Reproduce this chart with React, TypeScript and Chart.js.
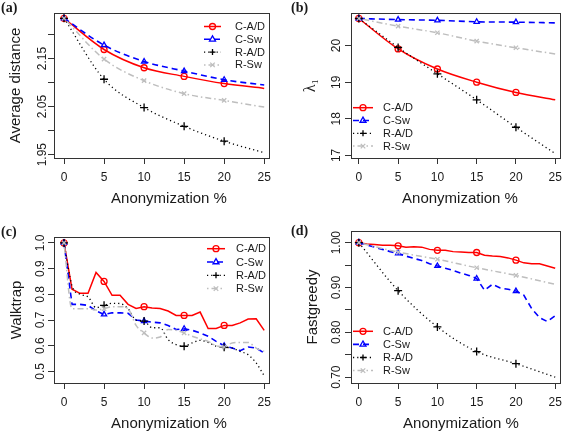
import React, { useEffect, useRef } from 'react';
import { Chart, registerables } from 'chart.js';

Chart.register(...registerables);

// ---------- data ----------
const SERIES_NAMES = ['C-A/D', 'C-Sw', 'R-A/D', 'R-Sw'];
const X_ALL = [0, 1, 2, 3, 4, 5, 6, 7, 8, 9, 10, 11, 12, 13, 14, 15, 16, 17, 18, 19, 20, 21, 22, 23, 24, 25];
const X_KEY = [0, 5, 10, 15, 20, 25];
const X_TICKS = [0, 5, 10, 15, 20, 25];
const MARK_AT = [0, 5, 10, 15, 20];

// (a) Average distance
const A_CAD = [2.234, 2.169, 2.131, 2.113, 2.098, 2.088];
const A_CSW = [2.234, 2.178, 2.144, 2.124, 2.106, 2.095];
const A_RAD = [2.234, 2.107, 2.048, 2.009, 1.978, 1.954];
const A_RSW = [2.234, 2.149, 2.104, 2.077, 2.063, 2.049];
const A_Y_TICKS = [1.95, 2.0, 2.05, 2.1, 2.15, 2.2];
const A_Y_LABELS = ['1.95', '', '2.05', '', '2.15', ''];

// (b) lambda_1
const B_CAD = [20.74, 19.91, 19.36, 19.0, 18.72, 18.52];
const B_CSW = [20.74, 20.71, 20.69, 20.65, 20.64, 20.62];
const B_RAD = [20.74, 19.95, 19.23, 18.52, 17.77, 17.05];
const B_RSW = [20.74, 20.53, 20.35, 20.12, 19.94, 19.77];
const B_Y_TICKS = [17, 18, 19, 20];
const B_Y_LABELS = ['17', '18', '19', '20'];

// (c) Walktrap
const C_CAD = [1.0, 0.82, 0.804, 0.804, 0.885, 0.85, 0.796, 0.796, 0.761, 0.745, 0.752, 0.747, 0.745, 0.735, 0.718, 0.718, 0.718, 0.731, 0.667, 0.667, 0.679, 0.679, 0.689, 0.704, 0.705, 0.66];
const C_CSW = [1.0, 0.761, 0.761, 0.757, 0.735, 0.722, 0.728, 0.728, 0.726, 0.7, 0.696, 0.692, 0.689, 0.679, 0.663, 0.666, 0.66, 0.65, 0.637, 0.617, 0.6, 0.591, 0.581, 0.595, 0.591, 0.572];
const C_RAD = [1.0, 0.833, 0.8, 0.79, 0.748, 0.757, 0.765, 0.764, 0.744, 0.7, 0.696, 0.67, 0.67, 0.624, 0.604, 0.598, 0.611, 0.621, 0.613, 0.598, 0.594, 0.591, 0.578, 0.565, 0.533, 0.483];
const C_RSW = [1.0, 0.744, 0.744, 0.744, 0.739, 0.744, 0.752, 0.752, 0.744, 0.679, 0.65, 0.63, 0.634, 0.663, 0.66, 0.65, 0.637, 0.627, 0.617, 0.6, 0.595, 0.611, 0.613, 0.613, 0.591, 0.578];
const C_Y_TICKS = [0.5, 0.6, 0.7, 0.8, 0.9, 1.0];
const C_Y_LABELS = ['0.5', '0.6', '0.7', '0.8', '0.9', '1.0'];

// (d) Fastgreedy
const D_CAD = [1.0, 0.997, 0.996, 0.994, 0.994, 0.993, 0.99, 0.991, 0.99, 0.985, 0.983, 0.983, 0.98, 0.979, 0.978, 0.978, 0.972, 0.97, 0.969, 0.966, 0.961, 0.955, 0.953, 0.953, 0.948, 0.943];
const D_CSW = [1.0, 0.995, 0.99, 0.985, 0.98, 0.976, 0.97, 0.965, 0.96, 0.953, 0.948, 0.943, 0.938, 0.932, 0.927, 0.92, 0.894, 0.907, 0.899, 0.896, 0.892, 0.883, 0.853, 0.833, 0.824, 0.837];
const D_RAD = [1.0, 0.893, 0.812, 0.757, 0.73, 0.7];
const D_RSW = [1.0, 0.979, 0.963, 0.944, 0.927, 0.907];
const D_Y_TICKS = [0.7, 0.75, 0.8, 0.85, 0.9, 0.95, 1.0];
const D_Y_LABELS = ['0.70', '', '0.80', '', '0.90', '', '1.00'];

// ---------- styles ----------
const FONT = '"Liberation Sans", Arial, Helvetica, sans-serif';
const SERIF = '"Liberation Serif", "DejaVu Serif", Times, serif';
const TEXT = '#1a1a1a';
const AXIS = '#333333';

type Style = { color: string; dash: number[]; width: number; point: string };
const STYLES: Style[] = [
  { color: '#ff0000', dash: [], width: 1.5, point: 'circle' },
  { color: '#0000ff', dash: [6, 4], width: 1.6, point: 'triangle' },
  { color: '#000000', dash: [1.2, 3], width: 1.3, point: 'cross' },
  { color: '#bebebe', dash: [1.5, 3, 6, 3], width: 1.5, point: 'crossRot' },
];

type SeriesCfg = { xs: number[]; ys: number[]; smooth: boolean };
type PanelCfg = {
  letter: string; left: number; top: number; w: number; h: number;
  area: { l: number; r: number; t: number; b: number };
  xMin: number; xMax: number; yMin: number; yMax: number;
  yTicks: number[]; yLabels: string[];
  yTitle: string; yTitleX: number; yTitleSerif?: boolean;
  yLabelOff: number;
  xTitleX: number;
  letterPos: { x: number; y: number };
  legend: { x0: number; x1: number; tx: number; y0: number; dy: number };
  series: SeriesCfg[];
};

const PANELS: PanelCfg[] = [
  {
    letter: '(a)', left: 0, top: 0, w: 284, h: 216,
    area: { l: 54, r: 269, t: 13, b: 158 },
    xMin: -1.25, xMax: 25.6, yMin: 1.943, yMax: 2.245,
    yTicks: A_Y_TICKS, yLabels: A_Y_LABELS,
    yTitle: 'Average distance', yTitleX: 15.5, yLabelOff: 11,
    xTitleX: 169,
    letterPos: { x: 1, y: 8 },
    legend: { x0: 204, x1: 221, tx: 235, y0: 26.5, dy: 12.8 },
    series: [
      { xs: X_KEY, ys: A_CAD, smooth: true },
      { xs: X_KEY, ys: A_CSW, smooth: true },
      { xs: X_KEY, ys: A_RAD, smooth: true },
      { xs: X_KEY, ys: A_RSW, smooth: true },
    ],
  },
  {
    letter: '(b)', left: 284, top: 0, w: 284, h: 216,
    area: { l: 67, r: 280, t: 13, b: 158 },
    xMin: -1.0, xMax: 25.6, yMin: 16.93, yMax: 20.89,
    yTicks: B_Y_TICKS, yLabels: B_Y_LABELS,
    yTitle: 'λ₁', yTitleX: 27, yTitleSerif: true, yLabelOff: 14,
    xTitleX: 176,
    letterPos: { x: 7, y: 8 },
    legend: { x0: 69, x1: 89, tx: 99, y0: 107.7, dy: 12.8 },
    series: [
      { xs: X_KEY, ys: B_CAD, smooth: true },
      { xs: X_KEY, ys: B_CSW, smooth: true },
      { xs: X_KEY, ys: B_RAD, smooth: true },
      { xs: X_KEY, ys: B_RSW, smooth: true },
    ],
  },
  {
    letter: '(c)', left: 0, top: 216, w: 284, h: 217,
    area: { l: 54, r: 269, t: 21, b: 167 },
    xMin: -1.25, xMax: 25.6, yMin: 0.455, yMax: 1.023,
    yTicks: C_Y_TICKS, yLabels: C_Y_LABELS,
    yTitle: 'Walktrap', yTitleX: 16.5, yLabelOff: 13,
    xTitleX: 169,
    letterPos: { x: 1, y: 16 },
    legend: { x0: 207, x1: 225, tx: 236, y0: 32.7, dy: 13.3 },
    series: [
      { xs: X_ALL, ys: C_CAD, smooth: false },
      { xs: X_ALL, ys: C_CSW, smooth: false },
      { xs: X_ALL, ys: C_RAD, smooth: true },
      { xs: X_ALL, ys: C_RSW, smooth: true },
    ],
  },
  {
    letter: '(d)', left: 284, top: 216, w: 284, h: 217,
    area: { l: 67, r: 280, t: 15, b: 167 },
    xMin: -1.0, xMax: 25.6, yMin: 0.687, yMax: 1.026,
    yTicks: D_Y_TICKS, yLabels: D_Y_LABELS,
    yTitle: 'Fastgreedy', yTitleX: 28.5, yLabelOff: 14,
    xTitleX: 177,
    letterPos: { x: 7, y: 15 },
    legend: { x0: 69, x1: 89, tx: 99, y0: 115.3, dy: 13.1 },
    series: [
      { xs: X_ALL, ys: D_CAD, smooth: false },
      { xs: X_ALL, ys: D_CSW, smooth: false },
      { xs: X_KEY, ys: D_RAD, smooth: true },
      { xs: X_KEY, ys: D_RSW, smooth: true },
    ],
  },
];

function drawMarker(ctx: CanvasRenderingContext2D, st: Style, x: number, y: number, r: number) {
  ctx.save();
  ctx.setLineDash([]);
  ctx.strokeStyle = st.color;
  ctx.lineWidth = 1.3;
  ctx.beginPath();
  if (st.point === 'circle') {
    ctx.arc(x, y, r, 0, Math.PI * 2);
  } else if (st.point === 'triangle') {
    const s = Math.sin(Math.PI / 3) * r * 1.15;
    ctx.moveTo(x, y - r * 1.15);
    ctx.lineTo(x - s, y + r * 0.575);
    ctx.lineTo(x + s, y + r * 0.575);
    ctx.closePath();
  } else if (st.point === 'cross') {
    ctx.moveTo(x - r, y); ctx.lineTo(x + r, y);
    ctx.moveTo(x, y - r); ctx.lineTo(x, y + r);
  } else {
    const d = r * 0.75;
    ctx.moveTo(x - d, y - d); ctx.lineTo(x + d, y + d);
    ctx.moveTo(x - d, y + d); ctx.lineTo(x + d, y - d);
  }
  ctx.stroke();
  ctx.restore();
}

function Panel({ cfg }: { cfg: PanelCfg }) {
  const ref = useRef<HTMLCanvasElement>(null);
  useEffect(() => {
    const canvas = ref.current;
    if (!canvas) return;
    const decor = {
      id: 'rdecor',
      afterDraw(chart: any) {
        const ctx: CanvasRenderingContext2D = chart.ctx;
        const a = chart.chartArea;
        ctx.save();
        // box
        ctx.setLineDash([]);
        ctx.strokeStyle = AXIS;
        ctx.lineWidth = 1;
        ctx.strokeRect(Math.round(a.left) + 0.5, Math.round(a.top) + 0.5,
          Math.round(a.right - a.left), Math.round(a.bottom - a.top));
        // y tick labels (rotated, as in R)
        const ys = chart.scales.y;
        ctx.fillStyle = TEXT;
        ctx.font = `12px ${FONT}`;
        ctx.textAlign = 'center';
        ctx.textBaseline = 'middle';
        cfg.yTicks.forEach((v, i) => {
          const s = cfg.yLabels[i];
          if (!s) return;
          const py = ys.getPixelForValue(v);
          ctx.save();
          ctx.translate(a.left - cfg.yLabelOff, py);
          ctx.rotate(-Math.PI / 2);
          ctx.fillText(s, 0, 0);
          ctx.restore();
        });
        // y title
        ctx.save();
        ctx.translate(cfg.yTitleX, (a.top + a.bottom) / 2);
        ctx.rotate(-Math.PI / 2);
        ctx.font = cfg.yTitleSerif ? `16px ${SERIF}` : `15px ${FONT}`;
        ctx.fillText(cfg.yTitle, 0, 0);
        ctx.restore();
        // x title
        ctx.font = `15px ${FONT}`;
        ctx.textBaseline = 'alphabetic';
        ctx.fillText('Anonymization %', cfg.xTitleX, a.bottom + 44.5);
        // panel letter
        ctx.font = `bold 14px ${SERIF}`;
        ctx.textAlign = 'left';
        ctx.textBaseline = 'middle';
        ctx.fillText(cfg.letter, cfg.letterPos.x, cfg.letterPos.y);
        // legend
        const L = cfg.legend;
        SERIES_NAMES.forEach((name, i) => {
          const st = STYLES[i];
          const y = L.y0 + i * L.dy;
          ctx.save();
          ctx.strokeStyle = st.color;
          ctx.lineWidth = st.width;
          ctx.setLineDash(st.dash);
          ctx.beginPath();
          ctx.moveTo(L.x0, y);
          ctx.lineTo(L.x1, y);
          ctx.stroke();
          ctx.restore();
          drawMarker(ctx, st, (L.x0 + L.x1) / 2, y, 3);
          ctx.fillStyle = TEXT;
          ctx.font = `11px ${FONT}`;
          ctx.textAlign = 'left';
          ctx.textBaseline = 'middle';
          ctx.fillText(name, L.tx, y + 0.5);
        });
        ctx.restore();
      },
    };

    const datasets = cfg.series.map((s, i) => {
      const st = STYLES[i];
      return {
        label: SERIES_NAMES[i],
        data: s.xs.map((x, j) => ({ x, y: s.ys[j] })),
        borderColor: st.color,
        borderWidth: st.width,
        borderDash: st.dash,
        backgroundColor: 'transparent',
        fill: false,
        tension: 0,
        cubicInterpolationMode: s.smooth ? 'monotone' : 'default',
        pointStyle: st.point,
        pointRadius: (ctx: any) => {
          const raw = ctx.raw as { x: number } | undefined;
          return raw && MARK_AT.includes(raw.x) ? (st.point === 'cross' ? 4 : 3) : 0;
        },
        pointBorderColor: st.color,
        pointBackgroundColor: 'transparent',
        pointBorderWidth: 1.3,
        order: 3 - i,
      };
    });

    const chart = new Chart(canvas, {
      type: 'line',
      data: { datasets } as any,
      options: {
        responsive: false,
        animation: false,
        devicePixelRatio: 1,
        events: [],
        layout: {
          padding: { left: 0, top: cfg.area.t, right: cfg.w - cfg.area.r, bottom: 0 },
        },
        plugins: { legend: { display: false }, tooltip: { enabled: false } },
        scales: {
          x: {
            type: 'linear',
            min: cfg.xMin,
            max: cfg.xMax,
            afterBuildTicks: (s: any) => { s.ticks = X_TICKS.map((v) => ({ value: v })); },
            afterFit: (s: any) => { s.height = cfg.h - cfg.area.b; },
            grid: { drawOnChartArea: false, drawTicks: true, tickLength: 6, color: AXIS, lineWidth: 1 },
            border: { display: false },
            ticks: {
              color: TEXT,
              font: { family: FONT, size: 12 },
              padding: 6,
              maxRotation: 0,
              autoSkip: false,
              callback: (v: any) => String(v),
            },
          },
          y: {
            type: 'linear',
            min: cfg.yMin,
            max: cfg.yMax,
            afterBuildTicks: (s: any) => { s.ticks = cfg.yTicks.map((v) => ({ value: v })); },
            afterFit: (s: any) => { s.width = cfg.area.l; },
            grid: { drawOnChartArea: false, drawTicks: true, tickLength: 6, color: AXIS, lineWidth: 1 },
            border: { display: false },
            ticks: { display: false },
          },
        },
      } as any,
      plugins: [decor],
    });
    return () => chart.destroy();
  }, [cfg]);
  return (
    <canvas
      ref={ref}
      width={cfg.w}
      height={cfg.h}
      style={{ position: 'absolute', left: cfg.left, top: cfg.top, width: cfg.w, height: cfg.h }}
    />
  );
}

export default function App() {
  return (
    <div style={{ position: 'absolute', left: 0, top: 0, width: 568, height: 433, background: '#ffffff', overflow: 'hidden' }}>
      {PANELS.map((p) => (
        <Panel key={p.letter} cfg={p} />
      ))}
    </div>
  );
}
